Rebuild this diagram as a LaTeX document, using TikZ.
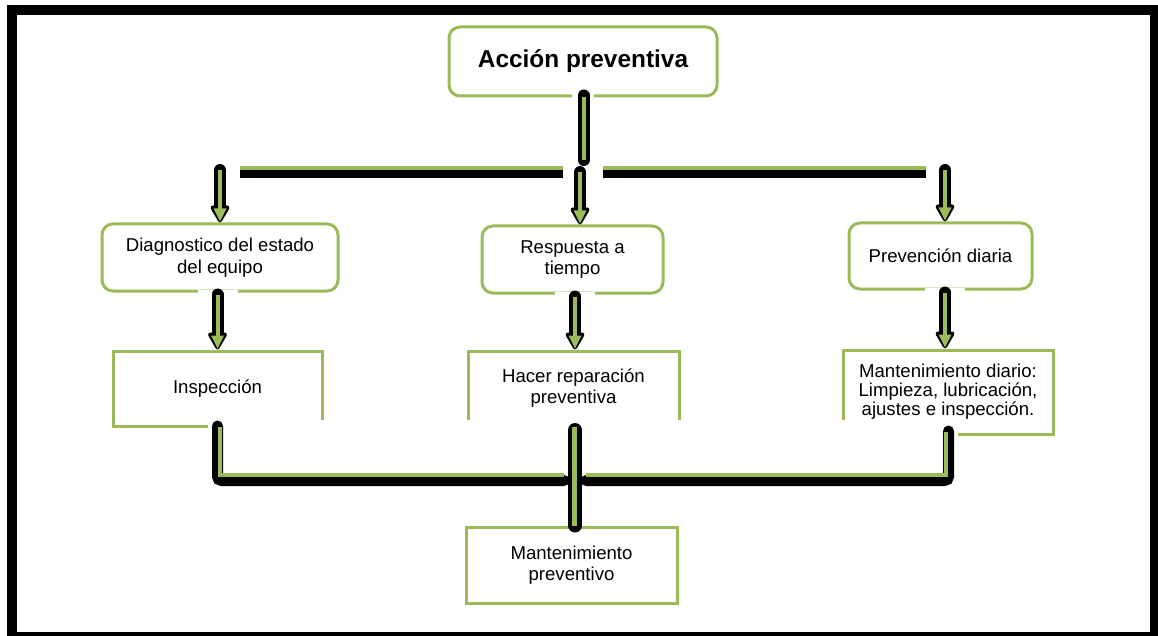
\documentclass[tikz,border=0pt]{standalone}
\usepackage{fontspec}
\setmainfont{Liberation Sans}
\usetikzlibrary{calc}
\definecolor{leaf}{RGB}{155,187,89}

% thick black connector with a green core and a green head, pointing down
\newcommand\connarrow[2]{%
  \path #1 coordinate (ca-s) #2 coordinate (ca-e);
  \draw[black, line width=12, line cap=round] (ca-s) -- ($(ca-e)+(0,-12)$);
  \fill[black, rounded corners=4] ($(ca-e)+(-11,-17)$) -- ($(ca-e)+(11,-17)$) -- ($(ca-e)+(0,2)$) -- cycle;
  \draw[leaf, line width=4] (ca-s) -- ($(ca-e)+(0,-12)$);
  \fill[leaf] ($(ca-e)+(-6.5,-14)$) -- ($(ca-e)+(6.5,-14)$) -- ($(ca-e)+(0,-1)$) -- cycle;
}

\begin{document}
\begin{tikzpicture}[x=1pt,y=-1pt,
  txt/.style={font=\fontsize{18.6}{21.5}\selectfont, align=center, inner sep=0pt},
  roundbox/.style={txt, draw=leaf, line width=3, rounded corners=11, fill=white},
  squarebox/.style={txt, draw=leaf, line width=3, fill=white},
  bar/.style={black, line width=8},
  barcore/.style={leaf, line width=4}]
\useasboundingbox (0,0) rectangle (1158,636);

% frame
\fill[black] (7,5) rectangle (1158,636);
\fill[white] (17,15) rectangle (1150,632);

% boxes
\node[roundbox, minimum width=268, minimum height=69,
      font=\fontsize{24.4}{28}\selectfont\bfseries] (top) at (583,61.5) {Acción preventiva};

\node[roundbox, minimum width=236, minimum height=67] (diag) at (220,257.5) {Diagnostico del estado\\del equipo};
\node[roundbox, minimum width=181, minimum height=67] (resp) at (572.5,259.5) {Respuesta a\\tiempo};
\node[roundbox, minimum width=183, minimum height=66] (prev) at (940.5,256) {Prevención diaria};

\node[squarebox, minimum width=209, minimum height=75] (insp) at (217.5,388.5) {Inspección};
\node[squarebox, minimum width=211, minimum height=74] (hacer) at (573.5,388) {Hacer reparación\\preventiva};
\node[squarebox, minimum width=210, minimum height=84,
      font=\fontsize{18.6}{19}\selectfont] (diario) at (948,392) {Mantenimiento diario:\\Limpieza, lubricación,\\ajustes e inspección.};

\node[squarebox, minimum width=211, minimum height=76] (mprev) at (571.5,565) {Mantenimiento\\preventivo};

% white ground under the connectors
\fill[white] ($(top.south)+(-11,-3)$) rectangle ($(top.south)+(11,3)$);
\fill[white] ($(insp.north |- diag.south)+(-20,-3)$) rectangle ($(insp.north |- diag.south)+(20,3)$);
\fill[white] ($(resp.south)+(-18,-3)$) rectangle ($(resp.south)+(22,3)$);
\fill[white] ($(prev.south)+(-16,-3)$) rectangle ($(prev.south)+(24,3)$);
\fill[white] (208,420) rectangle (958,440);

% upper distribution bus
\coordinate (busTop) at (583.5,160);
\draw[black, line width=12, line cap=round] ($(top.south)+(0.5,-2)$) -- (busTop);
\draw[leaf, line width=4] ($(top.south)+(0.5,0)$) -- (busTop);

\draw[bar] (240,174) -- (563,174);
\draw[bar] (603,174) -- (926,174);
\draw[barcore] (240,168) -- (563,168);
\draw[barcore] (603,168) -- (926,168);

\coordinate (dropL) at (220,170);
\coordinate (dropM) at (580,172);
\coordinate (dropR) at (945,170);
\connarrow{(dropL)}{(diag.north)}
\connarrow{(dropM)}{(dropM |- resp.north)}
\connarrow{(dropR)}{(dropR |- prev.north)}

% second level
\connarrow{($(insp.north |- diag.south)+(0,2)$)}{(insp.north)}
\connarrow{($(hacer.north |- resp.south)+(1.5,2)$)}{($(hacer.north)+(1.5,0)$)}
\connarrow{($(prev.south)+(4.5,2)$)}{($(diario.north)+(-3,0)$)}

% lower collecting bus
\coordinate (gapL) at (564,0);
\coordinate (gapR) at (586,0);
\draw[black, line width=11, line cap=round, rounded corners=4]
  (217.5,426) -- (217.5,480.5) -- (gapL |- 0,480.5);
\draw[black, line width=11, line cap=round, rounded corners=4]
  (gapR |- 0,480.5) -- (948.5,480.5) -- (948.5,431);
\draw[black, line width=14, line cap=round] (575,430) -- (mprev.north -| 575,0);
\draw[leaf, line width=4.5]
  (220,427) -- (220,475) -- (gapL |- 0,475);
\draw[leaf, line width=4.5]
  (gapR |- 0,475) -- (946,475) -- (946,432);
\draw[leaf, line width=5] (574.5,427) -- (mprev.north -| 574.5,0);

\end{tikzpicture}
\end{document}
